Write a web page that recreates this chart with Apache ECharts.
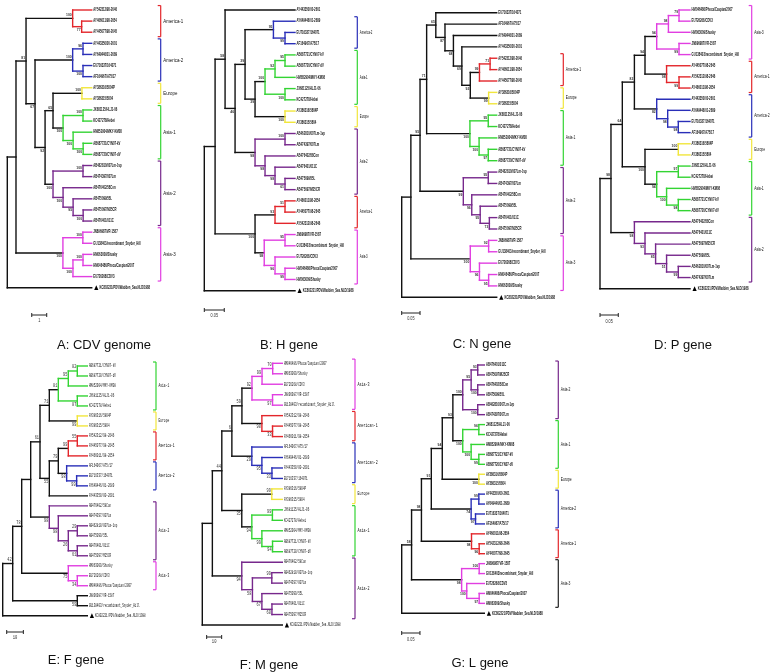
<!DOCTYPE html>
<html><head><meta charset="utf-8">
<script src="https://cdn.jsdelivr.net/npm/echarts/dist/echarts.min.js"></script>
<style>html,body{margin:0;padding:0;background:#fff}#c{width:771px;height:672px}</style>
</head><body><div id="c"></div>
<script>
// ---------- DATA ----------
const taxa = {
  a1:'AY542312/98-2646', a2:'AY466011/98-2654', a3:'AY445077/98-2645',
  b1:'AY443350/00-2601', b2:'AY649446/01-2689', b3:'EU716337/164071', b4:'AF164967/A75/17',
  e1:'AY386316/5804P', e2:'AY386315/5804',
  c1:'JX681125/HLJ1-06', c2:'KC427278/Hebei', c3:'HM852904/MKY-KM08', c4:'AB687721/CYN07-kV', c5:'AB687720/CYN07-dV',
  d1:'AB462810/007Lm-1vp', d2:'AB474397/007Lm', d3:'AB476402/58Con', d4:'AB475099/55L', d5:'AB475097/M25CR', d6:'AB476401/011C',
  f1:'JN896987/VR-1587', f2:'GU138403/recombinant_Snyder_Hill', f3:'HM063009/Shusky', f4:'HM046486/Phoca/Caspian/2007', f5:'EU726268/CDV3',
  P:'KC802221/PDV/Wadden_Sea.NLD/1988'
};
const outgroup = 'P';

// Newick trees: internal labels = bootstrap, branch lengths in scale-bar units (tips aligned)
const treeA = "((((a1,(a2,a3)77:0.60)100:3.11,(((b1,b2)96:0.69,(b3,b4)100:0.69)100:2.51,(((e1,e2)100:1.93,((c1,c2)100:1.33,(c3,(c4,c5)100:0.67)100:0.67)100:0.67)65:0.53,((d1,d2)100:2.0,(d3,(d4,(d5,d6)100:0.67)95:0.67)100:0.67)100:0.53)92:0.67)67:0.60)81:0.67,((f1,f2)100:1.33,((f3,f4)100:0.67,f5)100:0.67)100:3.13):0.58,P);";
const treeB = "(((b1,(((b2,(b3,b4)99:0.029)95:0.071,((((c4,c5)95:0.025,c3)92:0.025,(c1,c2)100:0.05)100:0.025,(e1,e2)100:0.075)39:0.025)39:0.025,((d1,d2)100:0.075,(d3,(d6,(d4,d5)61:0.025)98:0.025)98:0.025)98:0.05)46:0.025)58:0.025,(((a2,a3)51:0.025,a1)93:0.05,((f1,f2)95:0.052,(f5,(f4,f3)99:0.025)96:0.027)98:0.023)100:0.1):0.027,P);";
const treeC = "(((((b3,(b4,(b2,(b1,(((a1,a2)71:0.029,a3)99:0.025,(e1,e2)99:0.05)92:0.023)69:0.023)68:0.023)87:0.025)65:0.025,((c1,c2)95:0.05,(c3,(c4,c5)97:0.025)100:0.025)100:0.118)71:0.018,((d1,d2)95:0.068,(d3,(d4,(d6,d5)73:0.025)95:0.023)96:0.023)99:0.118)95:0.025,((f1,f2)92:0.05,(f5,(f4,f3)95:0.025)96:0.025)100:0.162):0.025,P);";
const treeD = "((((((((f4,f5)79:0.029,f3)98:0.032,(f1,f2)99:0.061)94:0.032,(a3,(a1,a2)99:0.034)98:0.059)94:0.029,(b1,(b2,(b3,b4)98:0.029)98:0.03)82:0.061)82:0.033,((e1,e2)100:0.091,((c1,c2)97:0.059,(c3,(c4,c5)98:0.032)100:0.027)94:0.032)100:0.062)64:0.031,(d3,(d6,(d5,(d4,(d1,d2)99:0.032)51:0.03)85:0.029)93:0.029)98:0.064)98:0.03,P);";
const treeE = "(((((((((c4,c5)82:5.4,c3)95:6,(c1,c2)87:11.4)81:5.4,(e1,e2)99:16.8)71:5.6,((((a1,a3)55:5.4,a2)99:6,(b4,(b3,b2)99:6)98:5)79:5.4,b1)55:5.6)61:5.6,(d3,(d2,((d1,d4)29:5.4,(d6,d5)61:5.4)26:6)98:5.4)98:11.2):5.4,(f3,(f5,f4)34:5.4)75:28)78:5.4,(f1,f2)59:38.8)42:6,P);";
const treeF = "((((((((f4,f3)70:7.1,f5)99:6.7,(f1,f2)97:13.7)92:6.7,(a1,(a3,a2)33:7.1)90:13.3)59:6.7,(b4,(b2,(b1,b3)33:6.7)95:6.7)29:13.3)6:6.7,((e1,e2)99:20,((c1,c2)99:13.7,(c3,(c4,c5)94:7.1)99:6.7)94:6.7)35:13.3)44:6.3,(d3,((d1,d2)99:12.9,(d4,(d6,d5)60:6.7)67:6.3)58:7.1)94:19.6):6.7,P);";
const treeG = "(((((((((d6,d5)93:0.018,(d3,d4)100:0.018)95:0.023,(d1,d2)100:0.041)100:0.027,((c1,c2)96:0.044,(c3,(c4,c5)99:0.021)100:0.023)100:0.027)93:0.029,(e1,e2)100:0.1)94:0.03,((b1,b2)99:0.021,(b3,b4)97:0.012)74:0.109)91:0.027,(a2,(a1,a3)96:0.021)98:0.137)98:0.027,((f1,f2)100:0.048,(f5,(f4,f3)97:0.034)100:0.014)98:0.137)58:0.027,P);";
const trees = [treeA, treeB, treeC, treeD, treeE, treeF, treeG];

// clades: [name, first leaf, last leaf]
const cladesA = [['America-1','a1','a3'],['America-2','b1','b4'],['Europe','e1','e2'],['Asia-1','c1','c5'],['Asia-2','d1','d6'],['Asia-3','f1','f5']];
const cladesB = [['America-2','b2','b4'],['Asia-1','c4','c2'],['Europe','e1','e2'],['Asia-2','d1','d5'],['America-1','a2','a1'],['Asia-3','f1','f3']];
const cladesC = [['America-1','a1','a3'],['Europe','e1','e2'],['Asia-1','c1','c5'],['Asia-2','d1','d5'],['Asia-3','f1','f3']];
const cladesD = [['Asia-3','f4','f2'],['America-1','a3','a2'],['America-2','b1','b4'],['Europe','e1','e2'],['Asia-1','c1','c5'],['Asia-2','d3','d2']];
const cladesE = [['Asia-1','c4','c2'],['Europe','e1','e2'],['America-1','a1','a2'],['America-2','b4','b2'],['Asia-2','d3','d5'],['Asia-3','f3','f4']];
const cladesF = [['Asia-3','f4','f2'],['American-1','a1','a2'],['American-2','b4','b3'],['Europe','e1','e2'],['Asia-1','c1','c5'],['Asia-2','d3','d5']];
const cladesG = [['Asia-2','d6','d2'],['Asia-1','c1','c5'],['Europe','e1','e2'],['America-2','b1','b4'],['America-1','a2','a3'],['Asia-3','f1','f3']];
const clades = [cladesA, cladesB, cladesC, cladesD, cladesE, cladesF, cladesG];

const tipDepth    = [5.63, 0.227, 0.259, 0.246, 50.8, 53.3, 0.226];
const scaleValues = [1, 0.05, 0.05, 0.05, 10, 10, 0.05];
const scaleLabels = ['1', '0.05', '0.05', '0.05', '10', '10', '0.05'];
const scaleStart  = [1.63, 0, 0, 0, 2.4, 2.9, 0];
const captions    = ['A: CDV genome', 'B: H gene', 'C: N gene', 'D: P gene', 'E: F gene', 'F: M gene', 'G: L gene'];

// ---------- STYLE / LAYOUT ----------
const cladeColors = {
  'America-1':'#e3262b', 'American-1':'#e3262b',
  'America-2':'#2a2fb8', 'American-2':'#2a2fb8',
  'Europe':'#f1e63c', 'Asia-1':'#33d433', 'Asia-2':'#77288c', 'Asia-3':'#e13ee1'
};
const bracketOverride = [{}, {}, {}, {}, {}, {}, {'Asia-3':'#222'}];
const layoutCfg = [
  {root:7.3,   tip:91.7,  top:10,    bottom:287.7, bx:160.7, sy:315, sly:321, cx:104, cy:345, mono:false, cl:[5.5,0.8]},
  {root:204.3, tip:295,   top:10,    bottom:290.7, bx:357.3, sy:310, sly:316, cx:289, cy:345, mono:false, cl:[4.6,0.6]},
  {root:401.7, tip:496.7, top:12.7,  bottom:297.3, bx:563.3, sy:313, sly:319, cx:482, cy:344, mono:false, cl:[4.8,0.7]},
  {root:600,   tip:690,   top:10,    bottom:288.7, bx:751.7, sy:315, sly:322, cx:683, cy:345, mono:false, cl:[4.8,0.7]},
  {root:2.7,   tip:87.3,  top:366,   bottom:615.7, bx:156,   sy:632, sly:638, cx:76,  cy:660, mono:true,  cl:[4.8,0.62]},
  {root:202.3, tip:282.3, top:363.3, bottom:625,   bx:355,   sy:637, sly:642, cx:269, cy:665, mono:true,  cl:[4.8,0.7]},
  {root:401.7, tip:484.3, top:365,   bottom:613.3, bx:558.3, sy:633, sly:640, cx:480, cy:663, mono:false, cl:[4.8,0.7]}
];
const LW = 1.4;

// ---------- TREE UTILITIES ----------
function parseNewick(s){
  let i = 0;
  function node(){
    const n = {children:[], name:'', label:'', len:0};
    if (s[i] === '('){
      i++;
      n.children.push(node());
      while (s[i] === ','){ i++; n.children.push(node()); }
      i++;
      let lab = '';
      while (i < s.length && !',():;'.includes(s[i])) lab += s[i++];
      n.label = lab.trim();
    } else {
      let nm = '';
      while (i < s.length && !',():;'.includes(s[i])) nm += s[i++];
      n.name = nm.trim();
    }
    if (s[i] === ':'){
      i++; let l = '';
      while (i < s.length && !',();'.includes(s[i])) l += s[i++];
      n.len = parseFloat(l);
    }
    return n;
  }
  return node();
}
function ancestors(n){ const a = []; while (n){ a.push(n); n = n.parent; } return a; }
function mrca(a, b){ const s = new Set(ancestors(a)); let n = b; while (!s.has(n)) n = n.parent; return n; }
function mark(n, c){ n.clade = c; n.children.forEach(ch => mark(ch, c)); }
function leafRange(n, r){ if (!n.children.length){ r[0] = Math.min(r[0], n.y); r[1] = Math.max(r[1], n.y); } else n.children.forEach(c => leafRange(c, r)); return r; }

function txt(x, y, t, font, sx, align, va, fill){
  return {type:'text', x:x, y:y, scaleX:sx, scaleY:1,
    style:{text:t, font:font, fill:fill || '#111', align:align, verticalAlign:va, textAlign:align, textVerticalAlign:va}};
}

const grid = [], xAxis = [], yAxis = [], series = [], graphic = [];

trees.forEach((nw, k) => {
  const cfg = layoutCfg[k];
  const root = parseNewick(nw);
  const leaves = [];
  (function walk(n, d, parent){
    n.parent = parent;
    if (n.children.length){
      n.x = d;
      n.children.forEach(c => walk(c, d + (c.len || 0), n));
      n.y = (n.children[0].y + n.children[n.children.length - 1].y) / 2;
    } else {
      n.x = tipDepth[k]; n.y = leaves.length; leaves.push(n);
    }
  })(root, 0, null);

  const byName = {}; leaves.forEach(l => byName[l.name] = l);
  const items = [];
  const brackets = [];
  clades[k].forEach(([cname, f, l]) => {
    const m = mrca(byName[f], byName[l]);
    mark(m, cname);
    const r = leafRange(m, [Infinity, -Infinity]);
    brackets.push({k:'br', y1:r[0] - 0.4, y2:r[1] + 0.4, name:cname,
      c: bracketOverride[k][cname] || cladeColors[cname]});
  });

  (function emit(n){
    if (n.parent){
      items.push({k:'seg', x1:n.parent.x, y1:n.y, x2:n.x, y2:n.y,
        c: (n.clade && n.parent.clade === n.clade) ? cladeColors[n.clade] : '#111'});
    }
    if (n.children.length){
      items.push({k:'seg', x1:n.x, y1:n.children[0].y, x2:n.x, y2:n.children[n.children.length - 1].y,
        c: n.clade ? cladeColors[n.clade] : '#111'});
      if (n.label && n.parent) items.push({k:'bs', x:n.x, y:n.y, t:n.label, top: n.parent.children[0] === n});
      n.children.forEach(emit);
    } else {
      items.push({k:'leaf', x:n.x, y:n.y, t:taxa[n.name], og:n.name === outgroup});
    }
  })(root);
  brackets.forEach(b => items.push(b));
  items.push({k:'sc', x1:scaleStart[k], x2:scaleStart[k] + scaleValues[k], t:scaleLabels[k]});

  grid.push({left:cfg.root, top:cfg.top, width:cfg.tip - cfg.root, height:cfg.bottom - cfg.top});
  xAxis.push({gridIndex:k, type:'value', min:0, max:tipDepth[k], show:false});
  yAxis.push({gridIndex:k, type:'value', min:0, max:leaves.length - 1, inverse:true, show:false});

  const fam = cfg.mono ? '"Liberation Mono"' : '"Liberation Sans"';
  const leafFont = cfg.mono ? '4.8px "Liberation Mono"' : 'bold 4.6px "Liberation Sans"';
  const leafSX = cfg.mono ? 0.55 : 0.6;
  const bsFont = cfg.mono ? '4.5px "Liberation Mono"' : 'bold 4px "Liberation Sans"';
  const bsSX = cfg.mono ? 0.8 : 0.85;
  const clFont = cfg.cl[0] + 'px ' + fam;

  series.push({
    type:'custom', xAxisIndex:k, yAxisIndex:k, clip:false, silent:true, animation:false,
    data: items.map(it => [it.x != null ? it.x : (it.x1 || 0), it.y != null ? it.y : (it.y1 || 0)]),
    renderItem: function(params, api){
      const it = items[params.dataIndex];
      if (it.k === 'seg'){
        const a = api.coord([it.x1, it.y1]), b = api.coord([it.x2, it.y2]);
        return {type:'line', shape:{x1:a[0], y1:a[1], x2:b[0], y2:b[1]},
          style:{stroke:it.c, lineWidth:LW, lineCap:'square'}};
      }
      if (it.k === 'leaf'){
        const p = api.coord([it.x, it.y]);
        if (it.og){
          const tx = p[0] + 2.5;
          return {type:'group', children:[
            {type:'polygon', shape:{points:[[tx, p[1] + 2.4], [tx + 2.1, p[1] - 2.4], [tx + 4.2, p[1] + 2.4]]}, style:{fill:'#000'}},
            txt(tx + 5.2, p[1], it.t, leafFont, leafSX, 'left', 'middle')
          ]};
        }
        return txt(p[0] + 1.6, p[1], it.t, leafFont, leafSX, 'left', 'middle');
      }
      if (it.k === 'bs'){
        const p = api.coord([it.x, it.y]);
        return it.top ? txt(p[0] - 1, p[1] - 1.2, it.t, bsFont, bsSX, 'right', 'bottom', '#333')
                      : txt(p[0] - 1, p[1] + 1.2, it.t, bsFont, bsSX, 'right', 'top', '#333');
      }
      if (it.k === 'br'){
        const a = api.coord([0, it.y1])[1], b = api.coord([0, it.y2])[1], bx = cfg.bx;
        const st = {stroke:it.c, lineWidth:1.2};
        return {type:'group', children:[
          {type:'line', shape:{x1:bx, y1:a, x2:bx, y2:b}, style:st},
          {type:'line', shape:{x1:bx - 3, y1:a, x2:bx, y2:a}, style:st},
          {type:'line', shape:{x1:bx - 3, y1:b, x2:bx, y2:b}, style:st},
          txt(bx + 2.5, (a + b) / 2, it.name, clFont, cfg.cl[1], 'left', 'middle')
        ]};
      }
      if (it.k === 'sc'){
        const a = api.coord([it.x1, 0])[0], b = api.coord([it.x2, 0])[0], y = cfg.sy;
        const st = {stroke:'#222', lineWidth:1};
        return {type:'group', children:[
          {type:'line', shape:{x1:a, y1:y, x2:b, y2:y}, style:st},
          {type:'line', shape:{x1:a, y1:y - 2, x2:a, y2:y + 2}, style:st},
          {type:'line', shape:{x1:b, y1:y - 2, x2:b, y2:y + 2}, style:st},
          txt((a + b) / 2, cfg.sly, it.t, cfg.mono ? '4.5px "Liberation Mono"' : '4.5px "Liberation Sans"', 0.85, 'center', 'middle', '#333')
        ]};
      }
      return null;
    }
  });

  graphic.push({type:'text', x:cfg.cx, y:cfg.cy, silent:true,
    style:{text:captions[k], font:'13px "Liberation Sans"', fill:'#111', align:'center', verticalAlign:'middle', textAlign:'center', textVerticalAlign:'middle'}});
});

const chart = echarts.init(document.getElementById('c'), null, {renderer:'canvas'});
chart.setOption({backgroundColor:'#fff', animation:false, grid, xAxis, yAxis, series, graphic});
</script>
</body></html>
